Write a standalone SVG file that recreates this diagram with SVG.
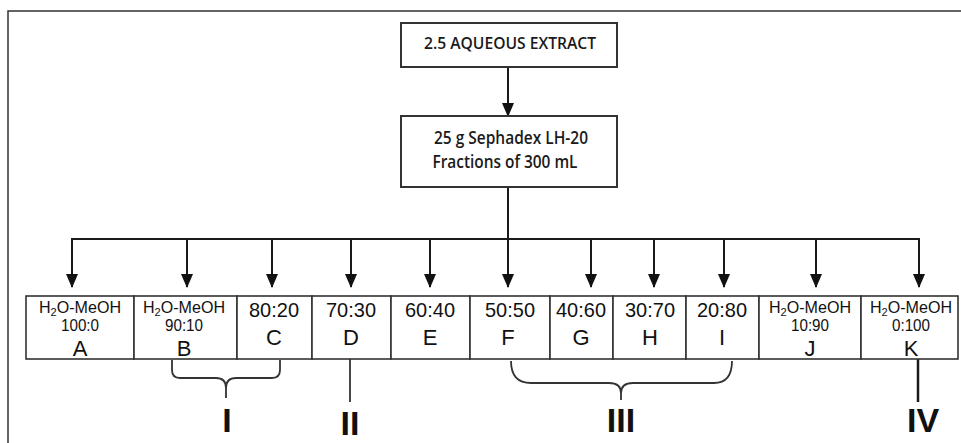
<svg xmlns="http://www.w3.org/2000/svg" width="961" height="443" viewBox="0 0 961 443">
<defs>
<marker id="ah" markerUnits="userSpaceOnUse" markerWidth="14" markerHeight="12" refX="13" refY="6" orient="auto" viewBox="0 0 14 12">
<path d="M0,0 L14,6 L0,12 Z" fill="#111"/>
</marker>
<style>
.frame{fill:none;stroke:#333;stroke-width:1.5}
.box{fill:#fff;stroke:#333;stroke-width:2}
.cell{fill:#fff;stroke:#333;stroke-width:1.6}
.ln{fill:none;stroke:#1a1a1a;stroke-width:2}
.arr{fill:none;stroke:#1a1a1a;stroke-width:2;marker-end:url(#ah)}
.br{fill:none;stroke:#333;stroke-width:1.8}
.t1{font-family:"Open Sans","Liberation Sans",sans-serif;font-size:16px;font-weight:600;fill:#1a1a1a;text-anchor:middle}
.t2{font-family:"Open Sans","Liberation Sans",sans-serif;font-size:18px;font-weight:600;fill:#1a1a1a;text-anchor:middle}
.sm{font-family:"Liberation Sans",Arial,sans-serif;font-size:16px;fill:#111;text-anchor:middle}
.md{font-family:"Liberation Sans",Arial,sans-serif;font-size:17px;fill:#111;text-anchor:middle}
.lg{font-family:"Liberation Sans",Arial,sans-serif;font-size:21px;fill:#111;text-anchor:middle}
.lt{font-family:"Liberation Sans",Arial,sans-serif;font-size:22px;fill:#111;text-anchor:middle}
.rn{font-family:"Liberation Sans",Arial,sans-serif;font-size:34px;font-weight:bold;fill:#111;text-anchor:middle}
</style>
</defs>
<rect width="961" height="443" fill="#fff"/>
<rect class="frame" x="8" y="11" width="980" height="460"/>

<g id="connectors">
<line class="arr" x1="508" y1="67" x2="508" y2="116"/>
<line class="ln" x1="508" y1="187" x2="508" y2="239"/>
<polyline class="ln" points="72,250 72,239 919,239 919,250"/>
<line class="arr" x1="72" y1="239" x2="72" y2="287"/>
<line class="arr" x1="187" y1="239" x2="187" y2="287"/>
<line class="arr" x1="272" y1="239" x2="272" y2="287"/>
<line class="arr" x1="351" y1="239" x2="351" y2="287"/>
<line class="arr" x1="430" y1="239" x2="430" y2="287"/>
<line class="arr" x1="508" y1="239" x2="508" y2="287"/>
<line class="arr" x1="591" y1="239" x2="591" y2="287"/>
<line class="arr" x1="654" y1="239" x2="654" y2="287"/>
<line class="arr" x1="724" y1="239" x2="724" y2="287"/>
<line class="arr" x1="816" y1="239" x2="816" y2="287"/>
<line class="arr" x1="919" y1="239" x2="919" y2="287"/>
<path class="br" d="M172,360 L172,370 Q172,378 180,378 L216,378 Q226,378 226,388 L226,398 M226,388 Q226,378 236,378 L272,378 Q280,378 280,370 L280,360"/>
<line class="br" x1="350" y1="359" x2="350" y2="402"/>
<path class="br" d="M511,361 Q511,383 531,383 L609,383 Q621,383 621,393 L621,400 M621,393 Q621,383 633,383 L714,383 Q732,383 732,361"/>
<line class="ln" x1="918" y1="359" x2="918" y2="402" style="stroke-width:2.5"/>
</g>

<g id="extract">
<rect class="box" x="401" y="23" width="216" height="44"/>
<text class="t1" x="510" y="49" textLength="172" lengthAdjust="spacingAndGlyphs">2.5 AQUEOUS EXTRACT</text>
</g>
<g id="sephadex">
<rect class="box" x="401" y="116" width="216" height="71"/>
<text class="t2" x="511" y="144" textLength="154" lengthAdjust="spacingAndGlyphs">25 g Sephadex LH-20</text>
<text class="t2" x="505" y="168" textLength="145" lengthAdjust="spacingAndGlyphs">Fractions of 300 mL</text>
</g>

<g id="frA">
<rect class="cell" x="26" y="296" width="108" height="63"/>
<text class="sm" x="80" y="313" textLength="82" lengthAdjust="spacingAndGlyphs">H<tspan font-size="11" dy="3">2</tspan><tspan dy="-3">O-MeOH</tspan></text>
<text class="md" x="80" y="331" textLength="38" lengthAdjust="spacingAndGlyphs">100:0</text>
<text class="lt" x="80" y="356">A</text>
</g>
<g id="frB">
<rect class="cell" x="134" y="296" width="103" height="63"/>
<text class="sm" x="184" y="313" textLength="82" lengthAdjust="spacingAndGlyphs">H<tspan font-size="11" dy="3">2</tspan><tspan dy="-3">O-MeOH</tspan></text>
<text class="md" x="184" y="331" textLength="38" lengthAdjust="spacingAndGlyphs">90:10</text>
<text class="lt" x="184" y="356">B</text>
</g>
<g id="frC">
<rect class="cell" x="237" y="296" width="75" height="63"/>
<text class="lg" x="274" y="317" textLength="50" lengthAdjust="spacingAndGlyphs">80:20</text>
<text class="lt" x="274" y="345">C</text>
</g>
<g id="frD">
<rect class="cell" x="312" y="296" width="79" height="63"/>
<text class="lg" x="351" y="317" textLength="50" lengthAdjust="spacingAndGlyphs">70:30</text>
<text class="lt" x="351" y="345">D</text>
</g>
<g id="frE">
<rect class="cell" x="391" y="296" width="79" height="63"/>
<text class="lg" x="430" y="317" textLength="50" lengthAdjust="spacingAndGlyphs">60:40</text>
<text class="lt" x="430" y="345">E</text>
</g>
<g id="frF">
<rect class="cell" x="470" y="296" width="80" height="63"/>
<text class="lg" x="510" y="317" textLength="50" lengthAdjust="spacingAndGlyphs">50:50</text>
<text class="lt" x="508" y="345">F</text>
</g>
<g id="frG">
<rect class="cell" x="550" y="296" width="63" height="63"/>
<text class="lg" x="581" y="317" textLength="50" lengthAdjust="spacingAndGlyphs">40:60</text>
<text class="lt" x="581" y="345">G</text>
</g>
<g id="frH">
<rect class="cell" x="613" y="296" width="73" height="63"/>
<text class="lg" x="650" y="317" textLength="50" lengthAdjust="spacingAndGlyphs">30:70</text>
<text class="lt" x="650" y="345">H</text>
</g>
<g id="frI">
<rect class="cell" x="686" y="296" width="73" height="63"/>
<text class="lg" x="722" y="317" textLength="50" lengthAdjust="spacingAndGlyphs">20:80</text>
<text class="lt" x="722" y="345">I</text>
</g>
<g id="frJ">
<rect class="cell" x="759" y="296" width="102" height="63"/>
<text class="sm" x="810" y="313" textLength="82" lengthAdjust="spacingAndGlyphs">H<tspan font-size="11" dy="3">2</tspan><tspan dy="-3">O-MeOH</tspan></text>
<text class="md" x="810" y="331" textLength="38" lengthAdjust="spacingAndGlyphs">10:90</text>
<text class="lt" x="810" y="356">J</text>
</g>
<g id="frK">
<rect class="cell" x="861" y="296" width="97" height="63"/>
<text class="sm" x="911" y="313" textLength="82" lengthAdjust="spacingAndGlyphs">H<tspan font-size="11" dy="3">2</tspan><tspan dy="-3">O-MeOH</tspan></text>
<text class="md" x="911" y="331" textLength="38" lengthAdjust="spacingAndGlyphs">0:100</text>
<text class="lt" x="911" y="356">K</text>
</g>

<g id="groupI"><text class="rn" x="227" y="432">I</text></g>
<g id="groupII"><text class="rn" x="350" y="435">II</text></g>
<g id="groupIII"><text class="rn" x="621" y="432">III</text></g>
<g id="groupIV"><text class="rn" x="923" y="432">IV</text></g>
</svg>
